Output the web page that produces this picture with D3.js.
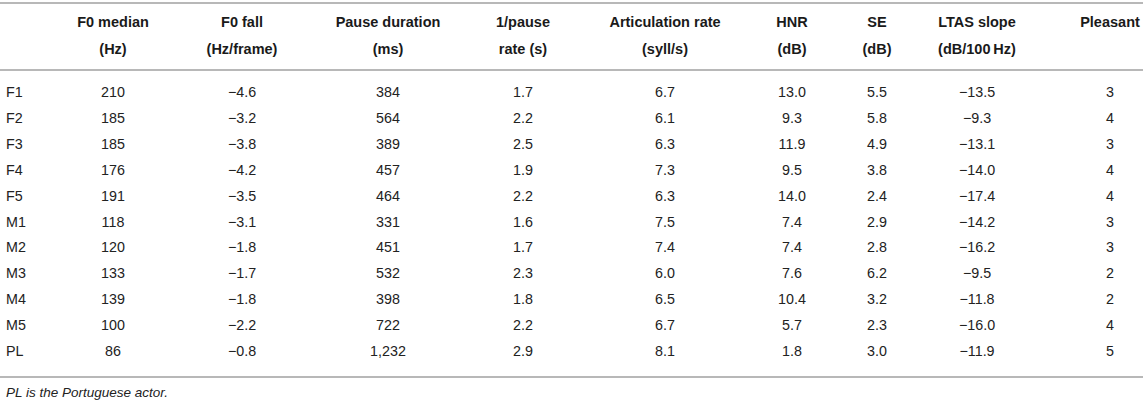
<!DOCTYPE html>
<html>
<head>
<meta charset="utf-8">
<script src="https://cdn.jsdelivr.net/npm/d3@7"></script>
<style>
  body { margin: 0; background: #fff; }
  svg { display: block; font-family: "Liberation Sans", Arial, Helvetica, sans-serif; }
  .head { font-weight: bold; font-size: 14.5px; fill: #1a1a1a; }
  .cell { font-size: 14.3px; fill: #222; }
  .note { font-size: 13.5px; font-style: italic; fill: #222; }
  .rule { stroke: #b8b8b8; stroke-width: 1.8; }
</style>
</head>
<body>
<div id="table"></div>
<script>
// Table contents
const speakers = ['F1', 'F2', 'F3', 'F4', 'F5', 'M1', 'M2', 'M3', 'M4', 'M5', 'PL'];
const columnKeys = ['f0Median', 'f0Fall', 'pauseDur', 'pauseRate', 'artRate', 'hnr', 'se', 'ltas', 'pleasant'];
const headerLine1 = ['F0 median', 'F0 fall', 'Pause duration', '1/pause', 'Articulation rate', 'HNR', 'SE', 'LTAS slope', 'Pleasant'];
const headerLine2 = ['(Hz)', '(Hz/frame)', '(ms)', 'rate (s)', '(syll/s)', '(dB)', '(dB)', '(dB/100\u2009Hz)', ''];

const f0Median = [210, 185, 185, 176, 191, 118, 120, 133, 139, 100, 86];
const f0Fall = [-4.6, -3.2, -3.8, -4.2, -3.5, -3.1, -1.8, -1.7, -1.8, -2.2, -0.8];
const pauseDur = [384, 564, 389, 457, 464, 331, 451, 532, 398, 722, 1232];
const pauseRate = [1.7, 2.2, 2.5, 1.9, 2.2, 1.6, 1.7, 2.3, 1.8, 2.2, 2.9];
const artRate = [6.7, 6.1, 6.3, 7.3, 6.3, 7.5, 7.4, 6.0, 6.5, 6.7, 8.1];
const hnr = [13.0, 9.3, 11.9, 9.5, 14.0, 7.4, 7.4, 7.6, 10.4, 5.7, 1.8];
const se = [5.5, 5.8, 4.9, 3.8, 2.4, 2.9, 2.8, 6.2, 3.2, 2.3, 3.0];
const ltas = [-13.5, -9.3, -13.1, -14.0, -17.4, -14.2, -16.2, -9.5, -11.8, -16.0, -11.9];
const pleasant = [3, 4, 3, 4, 4, 3, 3, 2, 2, 4, 5];

const footnote = 'PL is the Portuguese actor.';

const width = 1143;
const height = 404;

const series = { f0Median, f0Fall, pauseDur, pauseRate, artRate, hnr, se, ltas, pleasant };
const fmt1 = d3.format('.1f');
const formats = {
    f0Median: d3.format('d'), f0Fall: fmt1, pauseDur: d3.format(','), pauseRate: fmt1,
    artRate: fmt1, hnr: fmt1, se: fmt1, ltas: fmt1, pleasant: d3.format('d')
};

const svg = d3.select('#table')
    .append('svg')
    .attr('width', width)
    .attr('height', height);

// Column centres (table auto-widths) and row positions
const x = d3.scaleOrdinal()
    .domain(columnKeys)
    .range([113, 242, 388, 523, 665, 792, 877, 977, 1110]);

const y = d3.scalePoint()
    .domain(speakers)
    .range([92, 351]);

// Rules
[3, 70, 377].forEach(yy => {
    svg.append('line').attr('class', 'rule')
        .attr('x1', 0).attr('x2', width)
        .attr('y1', yy).attr('y2', yy);
});

// Header
const head = svg.append('g');
head.selectAll('.h1')
    .data(columnKeys)
    .join('text')
    .attr('class', 'head')
    .attr('x', d => x(d))
    .attr('y', 22)
    .attr('dy', '0.35em')
    .attr('text-anchor', 'middle')
    .text((d, i) => headerLine1[i]);

head.selectAll('.h2')
    .data(columnKeys)
    .join('text')
    .attr('class', 'head')
    .attr('x', d => x(d))
    .attr('y', 49)
    .attr('dy', '0.35em')
    .attr('text-anchor', 'middle')
    .text((d, i) => headerLine2[i]);

// Body rows
const rows = svg.selectAll('.row')
    .data(speakers)
    .join('g')
    .attr('class', 'row')
    .attr('transform', d => `translate(0,${y(d)})`);

rows.append('text')
    .attr('class', 'cell')
    .attr('x', 6)
    .attr('dy', '0.35em')
    .text(d => d);

rows.selectAll('.val')
    .data((d, i) => columnKeys.map(key => ({ key, value: series[key][i] })))
    .join('text')
    .attr('class', 'cell val')
    .attr('x', d => x(d.key))
    .attr('dy', '0.35em')
    .attr('text-anchor', 'middle')
    .text(d => formats[d.key](d.value));

// Footnote
svg.append('text')
    .attr('class', 'note')
    .attr('x', 6)
    .attr('y', 392)
    .attr('dy', '0.35em')
    .text(footnote);
</script>
</body>
</html>
